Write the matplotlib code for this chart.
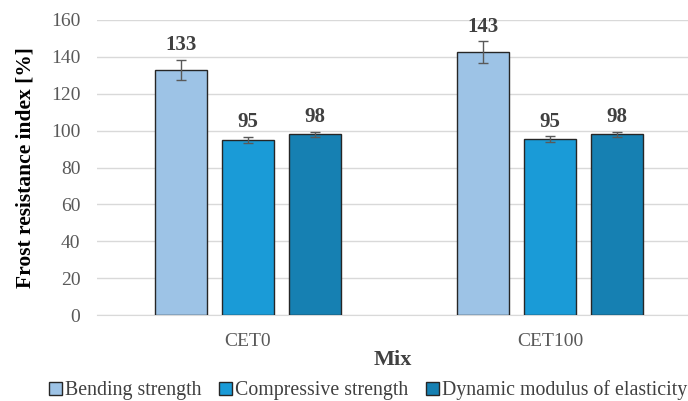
import numpy as np
import matplotlib.pyplot as plt

plt.rcParams['font.family'] = ['Liberation Serif', 'DejaVu Serif']

mixes = ['CET0', 'CET100']
series = ['Bending strength', 'Compressive strength', 'Dynamic modulus of elasticity']
values = [[133, 142.5], [95, 95.5], [98, 98]]
errors = [[5.5, 6], [1.5, 1.5], [1.5, 1.5]]
labels = [['133', '143'], ['95', '95'], ['98', '98']]
colors = ['#9DC3E6', '#1A9BD7', '#1680B2']

fig = plt.figure(figsize=(6.88, 4.01), dpi=100)
ax = fig.add_axes([97 / 688, 1 - 315 / 401, (688 - 97) / 688, (315 - 20) / 401])

x = np.arange(len(mixes))
w = 0.172
step = 0.222
for i, s in enumerate(series):
    pos = x + (i - 1) * step
    ax.bar(pos, values[i], w, color=colors[i], edgecolor='#262626', linewidth=1.0,
           label=s, zorder=3)
    ax.errorbar(pos, values[i], yerr=errors[i], fmt='none', ecolor='#595959',
                elinewidth=1.0, capsize=3.3, capthick=1.0, zorder=4)
    for p, v, e, t in zip(pos, values[i], errors[i], labels[i]):
        ax.text(p, v + e + 2.5, t, ha='center', va='bottom', fontsize=15,
                fontweight='bold', color='#404040', zorder=5)

ax.set_xlim(-0.5, 1.457)
ax.set_ylim(0, 160)
ax.set_yticks(np.arange(0, 161, 20))
ax.set_xticks(x)
ax.set_xticklabels(mixes)
ax.tick_params(axis='both', length=0, labelsize=14, colors='#595959')
ax.tick_params(axis='y', pad=12)
ax.tick_params(axis='x', pad=13)
ax.yaxis.grid(True, color='#D9D9D9', linewidth=1.0, zorder=0)
for side in ['top', 'right', 'left']:
    ax.spines[side].set_visible(False)
ax.spines['bottom'].set_color('#D9D9D9')

ax.set_ylabel('Frost resistance index [%]', fontsize=15.5, fontweight='bold',
              color='black', labelpad=11)
ax.set_xlabel('Mix', fontsize=16, fontweight='bold', color='#404040', labelpad=0)

leg = fig.legend(loc='lower center', bbox_to_anchor=(0.535, -0.043), ncol=3,
                 frameon=False, fontsize=14.3, handlelength=0.65, handleheight=0.65,
                 handletextpad=0.15, columnspacing=0.9)
for t in leg.get_texts():
    t.set_color('#404040')

fig.savefig('out.png', dpi=100)
